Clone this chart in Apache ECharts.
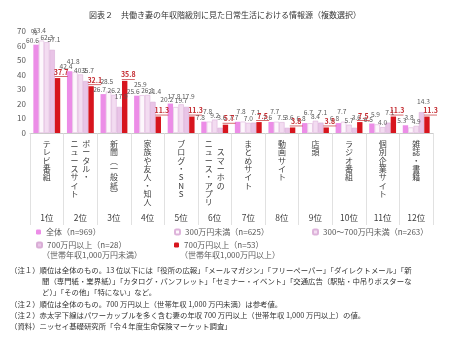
<!DOCTYPE html>
<html><head><meta charset="utf-8">
<script src="https://cdn.jsdelivr.net/npm/echarts@6/dist/echarts.min.js"></script>
<style>html,body{margin:0;padding:0;background:#fff}#c{width:450px;height:339px}</style>
</head><body><div id="c"></div>
<script>
const titleText = '図表２　共働き妻の年収階級別に見た日常生活における情報源（複数選択）';
const categories = ['テレビ番組','ポータル・ニュースサイト','新聞（一般紙）','家族や友人・知人','ブログ・SNS','スマーホのニュース・アプリ','まとめサイト','動画サイト','店頭','ラジオ番組','個別企業サイト','雑誌・書籍'];
// display columns for vertical writing (right column first)
const labelColumns = [['テレビ番組'],['ポータル・','ニュースサイト'],['新聞︵一般紙︶'],['家族や友人・知人'],['ブログ・SNS'],['　スマーホの','ニュース・アプリ'],['まとめサイト'],['動画サイト'],['店頭'],['ラジオ番組'],['個別企業サイト'],['雑誌・書籍']];
const ranks = ['1位','2位','3位','4位','5位','6位','7位','8位','9位','10位','11位','12位'];
const seriesNames = ['全体（n=969）','300万円未満（n=625）','300～700万円未満（n=263）','700万円以上（n=28）','700万円以上（n=53）'];
const subNotes = ['（世帯年収1,000万円未満）','（世帯年収1,000万円以上）'];
const allWives = [60.6,42.4,26.7,25.6,20.2,7.8,7.7,7.6,6.8,6.8,6.5,5.3];
const under300 = [63.4,41.8,28.5,25.9,17.8,7.8,7.8,7.7,6.7,7.7,5.9,3.8];
const from300to700 = [62.3,40.2,26.2,26.1,19.7,9.2,7.0,7.5,8.4,5.7,4.0,4.9];
const over700low = [57.1,35.7,17.9,21.4,17.9,3.6,7.1,3.6,7.1,3.6,7.1,14.3];
const over700high = [37.7,32.1,35.8,11.3,11.3,5.7,7.5,3.8,3.8,7.5,11.3,11.3];
const yTicks = [0,10,20,30,40,50,60,70];
const yUnit = '%';
const notes = [
 '（注１）順位は全体のもの。13 位以下には「役所の広報」「メールマガジン」「フリーペーパー」「ダイレクトメール」「新',
 '聞（専門紙・業界紙）」「カタログ・パンフレット」「セミナー・イベント」「交通広告（駅貼・中吊りポスターな',
 'ど）」「その他」「特にない」など。',
 '（注２）順位は全体のもの。700 万円以上（世帯年収 1,000 万円未満）は参考値。',
 '（注２）赤太字下線はパワーカップルを多く含む妻の年収 700 万円以上（世帯年収 1,000 万円以上）の値。',
 '（資料）ニッセイ基礎研究所「令４年度生命保険マーケット調査」'
];

const FONT = '"Noto Sans CJK JP","Noto Sans",sans-serif';
function verticalLabel(v, i) {
  const cols = labelColumns[i];
  if (cols.length === 1) return Array.from(cols[0]).join('\n');
  const right = Array.from(cols[0]), left = Array.from(cols[1]);
  const n = Math.max(right.length, left.length);
  const lines = [];
  for (let k = 0; k < n; k++) lines.push((left[k] || '　') + '\u2002' + (right[k] || '　'));
  return lines.join('\n');
}
const styles = [
  {color:'#EC8DE7', borderColor:'#EC8DE7', borderWidth:0},
  {color:'#FDF7FC', borderColor:'#DDB3DA', borderWidth:0.6},
  {color:'#F3DCF1', borderColor:'#DDB3DA', borderWidth:0.6},
  {color:'#E9C4E7', borderColor:'#D9AED6', borderWidth:0.6},
  {color:'#D7151E', borderColor:'#D7151E', borderWidth:0}
];
const dataSets = [allWives, under300, from300to700, over700low, over700high];
const series = dataSets.map((d, si) => ({
  name: seriesNames[si], type: 'bar', data: d, barGap: '0%', barCategoryGap: '20%',
  itemStyle: styles[si],
  label: si === 4 ? {
    show: true, position: 'top', distance: 1,
    formatter: p => '{v|' + p.value.toFixed(1) + '}\n{u| }',
    rich: {
      v: {fontSize: 7, fontWeight: 'bold', color: '#C42B31', fontFamily: FONT, lineHeight: 8},
      u: {backgroundColor: '#C42B31', width: 13, height: 0.7, lineHeight: 1, fontSize: 1}
    }
  } : {
    show: true, position: 'top', distance: 1, fontSize: 6.6, color: '#595959', fontFamily: FONT,
    formatter: p => p.value.toFixed(1)
  },
  labelLayout: function (params) {
    const s = params.seriesIndex;
    return {dx: (s - 2) * 1.8, dy: (s % 2 === 1) ? -6 : 0};
  }
}));
const legends = [
  {data:[seriesNames[0]], left: 36, top: 228},
  {data:[seriesNames[1]], left: 174, top: 228},
  {data:[seriesNames[2]], left: 312, top: 228},
  {data:[seriesNames[3]], left: 36, top: 241},
  {data:[seriesNames[4]], left: 174, top: 241}
].map(l => Object.assign(l, {itemWidth: 5, itemHeight: 5, itemGap: 4, padding: 0,
  textStyle: {fontSize: 8, color: '#595959', fontFamily: FONT}}));

const graphics = [
  {type:'text', left: 42, top: 251, style:{text: subNotes[0], fill:'#595959', font: '8px ' + FONT}},
  {type:'text', left: 180, top: 251, style:{text: subNotes[1], fill:'#595959', font: '8px ' + FONT}},
  {type:'text', left: 31, top: 29, style:{text: yUnit, fill:'#595959', font: '7px ' + FONT}}
];
const noteTops = [266, 277, 288, 300, 311, 322];
const noteLefts = [10, 42, 42, 10, 10, 10];
notes.forEach((t, i) => graphics.push({type:'text', left: noteLefts[i], top: noteTops[i],
  style:{text: t, fill:'#333333', font: '7.4px ' + FONT}}));

const chart = echarts.init(document.getElementById('c'), null, {renderer:'canvas'});
chart.setOption({
  animation: false,
  title: {text: titleText, left: 'center', top: 6, textStyle:{fontSize: 8, fontWeight:'normal', color:'#333', fontFamily: FONT}},
  legend: legends,
  grid: {left: 30, right: 17, top: 31, bottom: 206},
  xAxis: [
    {type:'category', data: categories, position:'bottom',
     axisLine:{lineStyle:{color:'#BFBFBF', width: 0.8}},
     axisTick:{show:true, length: 92, lineStyle:{color:'#D9D9D9', width: 0.8}},
     axisLabel:{interval: 0, margin: 7, formatter: verticalLabel, fontSize: 8, lineHeight: 8.3, color:'#404040', fontFamily: FONT, verticalAlign:'top'}},
    {type:'category', data: ranks, position:'bottom', offset: 74,
     axisLine:{show:false}, axisTick:{show:false},
     axisLabel:{interval: 0, margin: 7, fontSize: 8.5, color:'#404040', fontFamily: FONT}}
  ],
  yAxis: {type:'value', min: yTicks[0], max: yTicks[yTicks.length-1], interval: 10,
    axisLine:{show:false}, axisTick:{show:false}, splitLine:{show:false},
    axisLabel:{fontSize: 8, color:'#595959', margin: 4, fontFamily: FONT, showMaxLabel: true}},
  series: series,
  graphic: graphics
});
</script></body></html>
